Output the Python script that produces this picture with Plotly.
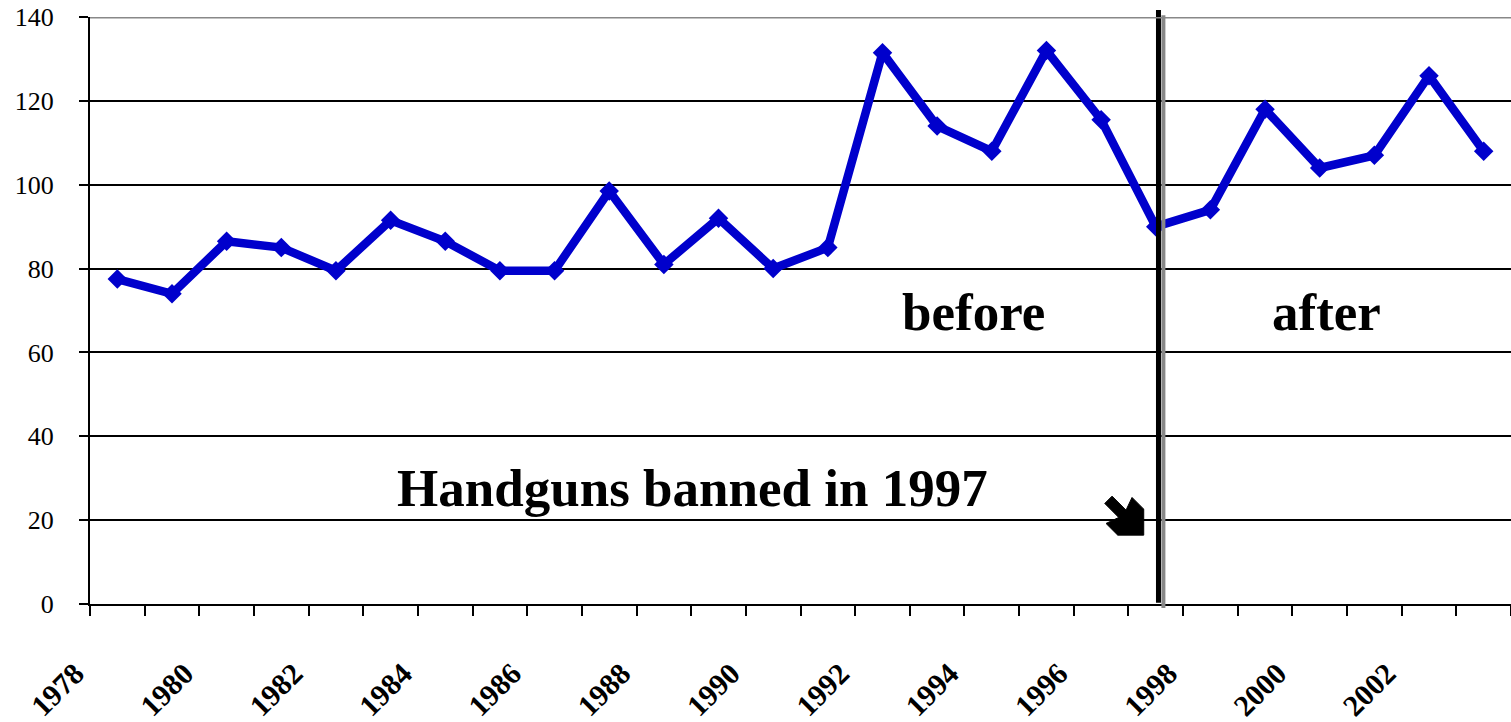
import plotly.graph_objects as go

years = list(range(1978, 2004))
values = [77.5, 74, 86.5, 85, 79.5, 91.5, 86.5, 79.5, 79.5, 98.5, 81, 92, 80, 85,
          131.5, 114, 108, 132, 115.5, 90, 94, 118, 104, 107, 126, 108]
label_years = list(range(1978, 2003, 2))
y_ticks = list(range(0, 141, 20))
ban_year = 1997

blue = "rgb(0,0,204)"
serif = "Liberation Serif"

fig = go.Figure()
fig.add_trace(go.Scatter(
    x=years, y=values, mode="lines+markers",
    line=dict(color=blue, width=8.5),
    marker=dict(symbol="diamond", size=15, color=blue),
    showlegend=False, cliponaxis=False,
))

# ban marker: black line with grey shadow
fig.add_shape(type="line", xref="x", yref="paper", x0=ban_year + 0.14, x1=ban_year + 0.14,
              y0=-0.007, y1=1.003, line=dict(color="#888888", width=4))
fig.add_shape(type="line", xref="x", yref="paper", x0=ban_year + 0.05, x1=ban_year + 0.05,
              y0=0.002, y1=1.012, line=dict(color="black", width=5))
# grey top border
fig.add_shape(type="line", xref="paper", yref="y", x0=0, x1=1, y0=140, y1=140,
              line=dict(color="#888888", width=3))

# block arrow pointing at the ban line
ax, ay = ban_year - 0.22, 20
sx, sy = 1 / 54.7, 1 / 4.193
pts = [(1113.3, 496), (1127.3, 510), (1133.3, 497.3), (1145, 509), (1145, 535),
       (1119, 535), (1107.3, 523.3), (1120, 517.3), (1106, 503.3)]
path = ""
for i, (px, py) in enumerate(pts):
    xx = ax + (px - 1145) * sx
    yy = ay - (py - 520) * sy
    path += ("M" if i == 0 else "L") + f"{xx:.4f},{yy:.4f} "
path += "Z"
fig.add_shape(type="path", xref="x", yref="y", path=path,
              fillcolor="black", line=dict(color="black", width=1))

big = dict(family=serif, size=53, color="black")
fig.add_annotation(x=1993.67, y=69.7, text="<b>before</b>", showarrow=False, font=big)
fig.add_annotation(x=2000.12, y=69.7, text="<b>after</b>", showarrow=False, font=big)
fig.add_annotation(x=1988.53, y=27.7, text="<b>Handguns banned in 1997</b>", showarrow=False, font=big)

fig.update_layout(
    width=1511, height=722,
    margin=dict(l=90, r=0, t=17, b=118),
    paper_bgcolor="white", plot_bgcolor="white",
    font=dict(family=serif, color="black"),
    xaxis=dict(
        range=[1977.5, 2003.5], tickvals=label_years,
        ticktext=["<b>%d</b>" % y for y in label_years],
        tickangle=-45, tickfont=dict(family=serif, size=30, color="black"),
        ticks="", showgrid=False, zeroline=False, automargin=False,
        showline=True, linecolor="black", linewidth=2,
        ticklabelshift=-42, ticklabelstandoff=38,
        minor=dict(tick0=1977.5, dtick=1, ticks="outside", ticklen=10, tickwidth=2,
                   tickcolor="black", showgrid=False),
    ),
    yaxis=dict(
        range=[0, 140], tickvals=y_ticks, tickfont=dict(family=serif, size=26, color="black"),
        ticks="outside", ticklen=9, tickwidth=2, tickcolor="black", automargin=False,
        showgrid=True, gridcolor="black", gridwidth=2, zeroline=False,
        showline=True, linecolor="black", linewidth=2, ticklabelstandoff=20,
    ),
)

# drop the default 8px page margin so the figure fills the window
fig.write_html("out.html", config={"displayModeBar": False},
               post_script="document.body.style.margin='0';")
